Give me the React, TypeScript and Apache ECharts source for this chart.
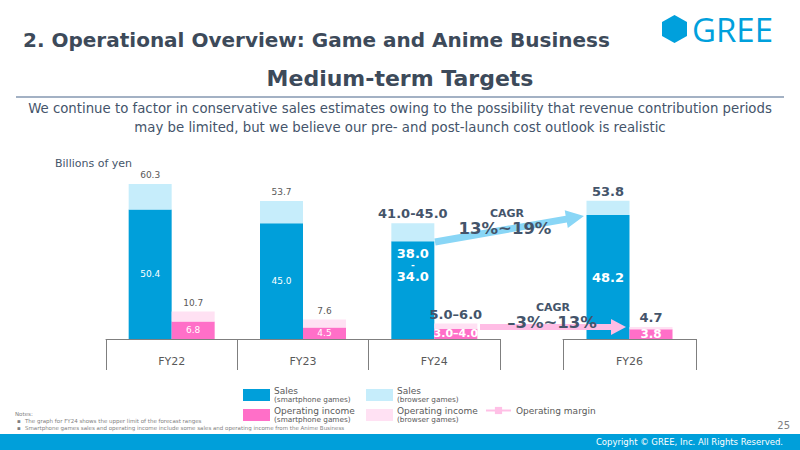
import React, { useEffect, useRef } from "react";
import * as echarts from "echarts";

const categories = ["FY22", "FY23", "FY24", "FY26"];
const salesSmartphone = [50.4, 45.0, 38.0, 48.2];
const salesTotal = [60.3, 53.7, 45.0, 53.8];
const oiSmartphone = [6.8, 4.5, 4.0, 3.8];
const oiTotal = [10.7, 7.6, 6.0, 4.7];
const salesSmartLabels = ["50.4", "45.0", "{a|38.0}\n{b|-}\n{a|34.0}", "48.2"];
const salesTotalLabels = ["60.3", "53.7", "41.0-45.0", "53.8"];
const oiSmartLabels = ["6.8", "4.5", "3.0–4.0", "3.8"];
const oiTotalLabels = ["10.7", "7.6", "5.0–6.0", "4.7"];
const cagrSales = "13%~19%";
const cagrOI = "–3%~13%";

const FONT = "DejaVu Sans";
const DARK = "#44546A";
const GRAY = "#595959";
const C_SALES_SP = "#009FDA";
const C_SALES_BR = "#C6EDFB";
const C_OI_SP = "#FF6FC8";
const C_OI_BR = "#FFE1F3";

const N_SALES_SP = "Sales (smartphone games)";
const N_SALES_BR = "Sales (browser games)";
const N_OI_SP = "Operating income (smartphone games)";
const N_OI_BR = "Operating income (browser games)";
const N_MARGIN = "Operating margin";

function arrowPoints(x1: number, y1: number, x2: number, y2: number, sw: number, hw: number, hl: number) {
  const dx = x2 - x1, dy = y2 - y1;
  const L = Math.sqrt(dx * dx + dy * dy);
  const ux = dx / L, uy = dy / L;
  const nx = -uy, ny = ux;
  const bx = x2 - ux * hl, by = y2 - uy * hl;
  return [
    [x1 + nx * sw, y1 + ny * sw],
    [bx + nx * sw, by + ny * sw],
    [bx + nx * hw, by + ny * hw],
    [x2, y2],
    [bx - nx * hw, by - ny * hw],
    [bx - nx * sw, by - ny * sw],
    [x1 - nx * sw, y1 - ny * sw],
  ];
}

function makeSeries(gridIdx: number, idxs: number[]) {
  const big = (i: number) => i >= 2;
  const insideLabel = (i: number, text: string, pos: string, bigSize: number) => ({
    show: true,
    position: pos,
    distance: 6,
    formatter: text,
    color: "#fff",
    fontFamily: FONT,
    fontSize: big(i) ? bigSize : 9,
    fontWeight: big(i) ? "bold" : "normal",
    rich: {
      a: { fontSize: 13, lineHeight: 13, fontWeight: "bold", color: "#fff", fontFamily: FONT },
      b: { fontSize: 9, lineHeight: 10, fontWeight: "bold", color: "#fff", fontFamily: FONT },
    },
  });
  const topLabel = (i: number, text: string) => ({
    show: true,
    position: "top",
    distance: big(i) ? 3 : 4,
    formatter: text,
    color: big(i) ? DARK : GRAY,
    fontFamily: FONT,
    fontSize: big(i) ? 13 : 9,
    fontWeight: big(i) ? "bold" : "normal",
  });
  const common = { type: "bar", xAxisIndex: gridIdx, yAxisIndex: gridIdx, barWidth: 43, barGap: "0%" };
  return [
    {
      ...common,
      name: N_SALES_SP,
      stack: "sales" + gridIdx,
      itemStyle: { color: C_SALES_SP },
      data: idxs.map((i) => ({
        value: salesSmartphone[i],
        label: insideLabel(i, salesSmartLabels[i], i === 2 ? "insideTop" : "inside", 13),
      })),
    },
    {
      ...common,
      name: N_SALES_BR,
      stack: "sales" + gridIdx,
      itemStyle: { color: C_SALES_BR },
      data: idxs.map((i) => ({
        value: +(salesTotal[i] - salesSmartphone[i]).toFixed(1),
        label: topLabel(i, salesTotalLabels[i]),
      })),
    },
    {
      ...common,
      name: N_OI_SP,
      stack: "oi" + gridIdx,
      itemStyle: { color: C_OI_SP },
      data: idxs.map((i) => ({
        value: oiSmartphone[i],
        label: insideLabel(i, oiSmartLabels[i], "inside", i === 2 ? 11 : 12),
      })),
    },
    {
      ...common,
      name: N_OI_BR,
      stack: "oi" + gridIdx,
      itemStyle: { color: C_OI_BR },
      data: idxs.map((i) => ({
        value: +(oiTotal[i] - oiSmartphone[i]).toFixed(1),
        label: topLabel(i, oiTotalLabels[i]),
      })),
    },
  ];
}

function legendItem(name: string, left: number, top: number, l1: string, l2: string) {
  return {
    data: [name],
    left,
    top,
    padding: 0,
    itemWidth: 27,
    itemHeight: 12,
    itemGap: 4,
    icon: "rect",
    selectedMode: false,
    formatter: () => `{a|${l1}}\n{b|${l2}}`,
    textStyle: {
      color: GRAY,
      fontFamily: FONT,
      padding: [0, 0, 0, -1],
      rich: {
        a: { fontSize: 9, lineHeight: 9, color: GRAY, fontFamily: FONT },
        b: { fontSize: 7.3, lineHeight: 9, color: GRAY, fontFamily: FONT },
      },
    },
  };
}

export default function App() {
  const ref = useRef<HTMLDivElement>(null);
  useEffect(() => {
    if (!ref.current) return;
    const chart = echarts.init(ref.current, null, { renderer: "svg" });
    const axisCommon = {
      type: "category",
      axisLine: { show: true, lineStyle: { color: "#7F7F7F", width: 1 } },
      axisTick: { show: true, length: 31, lineStyle: { color: "#7F7F7F", width: 1 } },
      axisLabel: { margin: 17, fontSize: 11, color: GRAY, fontFamily: FONT },
    };
    const yCommon = { type: "value", min: 0, max: 70, show: false };
    const option: any = {
      animation: false,
      backgroundColor: "#fff",
      grid: [
        { left: 106, width: 394, top: 159, height: 180 },
        { left: 563, width: 133, top: 159, height: 180 },
      ],
      xAxis: [
        { ...axisCommon, gridIndex: 0, data: categories.slice(0, 3) },
        { ...axisCommon, gridIndex: 1, data: categories.slice(3) },
      ],
      yAxis: [
        { ...yCommon, gridIndex: 0 },
        { ...yCommon, gridIndex: 1 },
      ],
      legend: [
        legendItem(N_SALES_SP, 243, 386, "Sales", "(smartphone games)"),
        legendItem(N_SALES_BR, 366, 386, "Sales", "(browser games)"),
        legendItem(N_OI_SP, 243, 406, "Operating income", "(smartphone games)"),
        legendItem(N_OI_BR, 366, 406, "Operating income", "(browser games)"),
        {
          data: [N_MARGIN],
          left: 485,
          top: 406,
          padding: 0,
          itemWidth: 25,
          itemHeight: 9,
          itemGap: 3,
          selectedMode: false,
          textStyle: { color: GRAY, fontFamily: FONT, fontSize: 9 },
        },
      ],
      series: [
        ...makeSeries(0, [0, 1, 2]),
        ...makeSeries(1, [3]),
        {
          type: "line",
          name: N_MARGIN,
          xAxisIndex: 0,
          yAxisIndex: 0,
          data: [],
          symbol: "rect",
          symbolSize: 9,
          itemStyle: { color: "#FFC0E6" },
          lineStyle: { color: "#FFC0E6", width: 3 },
        },
      ],
      graphic: [
        {
          type: "text",
          x: 23,
          y: 40,
          style: { text: "2. Operational Overview: Game and Anime Business", font: `bold 20px "${FONT}"`, fill: "#3D4A5A", textVerticalAlign: "middle" },
        },
        {
          type: "polygon",
          shape: { points: [[674.5, 15], [687, 22], [687, 36], [674.5, 43], [662, 36], [662, 22]] },
          style: { fill: "#00A0DC" },
        },
        {
          type: "text",
          x: 692,
          y: 29,
          style: { text: "GREE", font: `33px "Open Sans"`, fill: "#00A0DC", textVerticalAlign: "middle" },
        },
        {
          type: "text",
          x: 400,
          y: 78,
          style: { text: "Medium-term Targets", font: `bold 22px "${FONT}"`, fill: "#3D4A5A", textAlign: "center", textVerticalAlign: "middle" },
        },
        {
          type: "line",
          shape: { x1: 16, y1: 97, x2: 784, y2: 97 },
          style: { stroke: "#8497B0", lineWidth: 1.5 },
        },
        {
          type: "text",
          x: 400,
          y: 118,
          style: {
            text: "We continue to factor in conservative sales estimates owing to the possibility that revenue contribution periods\nmay be limited, but we believe our pre- and post-launch cost outlook is realistic",
            font: `13.3px "${FONT}"`,
            lineHeight: 19,
            fill: DARK,
            textAlign: "center",
            textVerticalAlign: "middle",
          },
        },
        {
          type: "text",
          x: 55,
          y: 163,
          style: { text: "Billions of yen", font: `11px "${FONT}"`, fill: DARK, textVerticalAlign: "middle" },
        },
        {
          type: "polygon",
          z: 50,
          shape: { points: arrowPoints(435, 242, 584, 216, 3.5, 9, 18) },
          style: { fill: "#89D6F6" },
        },
        {
          type: "polygon",
          z: 50,
          shape: { points: arrowPoints(480, 327, 626, 327, 3, 8, 15) },
          style: { fill: "#FFBDE5" },
        },
        {
          type: "text",
          z: 60,
          x: 507,
          y: 213,
          style: { text: "CAGR", font: `bold 11px "${FONT}"`, fill: DARK, textAlign: "center", textVerticalAlign: "middle" },
        },
        {
          type: "text",
          z: 60,
          x: 505,
          y: 228,
          style: { text: cagrSales, font: `bold 16.5px "${FONT}"`, fill: DARK, textAlign: "center", textVerticalAlign: "middle" },
        },
        {
          type: "text",
          z: 60,
          x: 553,
          y: 307,
          style: { text: "CAGR", font: `bold 11px "${FONT}"`, fill: DARK, textAlign: "center", textVerticalAlign: "middle" },
        },
        {
          type: "text",
          z: 60,
          x: 552,
          y: 322,
          style: { text: cagrOI, font: `bold 16.5px "${FONT}"`, fill: DARK, textAlign: "center", textVerticalAlign: "middle" },
        },
        {
          type: "text",
          x: 15,
          y: 414,
          style: { text: "Notes:", font: `5.5px "${FONT}"`, fill: "#7F7F7F", textVerticalAlign: "middle" },
        },
        {
          type: "text",
          x: 17,
          y: 421,
          style: { text: "▪", font: `5.5px "${FONT}"`, fill: "#7F7F7F", textVerticalAlign: "middle" },
        },
        {
          type: "text",
          x: 25,
          y: 421,
          style: { text: "The graph for FY24 shows the upper limit of the forecast ranges", font: `5.5px "${FONT}"`, fill: "#7F7F7F", textVerticalAlign: "middle" },
        },
        {
          type: "text",
          x: 17,
          y: 428,
          style: { text: "▪", font: `5.5px "${FONT}"`, fill: "#7F7F7F", textVerticalAlign: "middle" },
        },
        {
          type: "text",
          x: 25,
          y: 428,
          style: {
            text: "Smartphone games sales and operating income include some sales and operating income from the Anime Business",
            font: `5.5px "${FONT}"`,
            fill: "#7F7F7F",
            textVerticalAlign: "middle",
          },
        },
        {
          type: "text",
          x: 790,
          y: 425,
          style: { text: "25", font: `10px "${FONT}"`, fill: "#7F7F7F", textAlign: "right", textVerticalAlign: "middle" },
        },
        {
          type: "rect",
          shape: { x: 0, y: 434, width: 800, height: 16 },
          style: { fill: "#009FDA" },
        },
        {
          type: "text",
          x: 783,
          y: 442,
          style: { text: "Copyright © GREE, Inc. All Rights Reserved.", font: `8.5px "${FONT}"`, fill: "#fff", textAlign: "right", textVerticalAlign: "middle" },
        },
      ],
    };
    chart.setOption(option);
    return () => chart.dispose();
  }, []);
  return (
    <div
      ref={ref}
      style={{ position: "fixed", left: 0, top: 0, width: 800, height: 450, background: "#fff" }}
    />
  );
}
